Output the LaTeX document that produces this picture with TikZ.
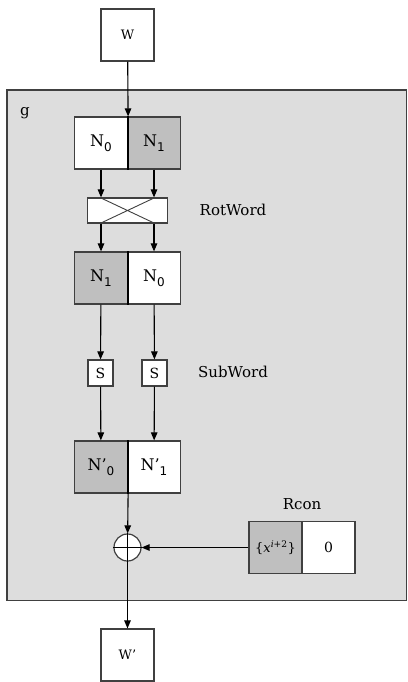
\documentclass[tikz,border=0pt]{standalone}
\usepackage{fontspec}
\setmainfont{DejaVu Serif}
\newfontfamily\subfont{DejaVu Sans}
\usetikzlibrary{arrows.meta,positioning}
\definecolor{PanelGray}{RGB}{221,221,221}
\definecolor{CellGray}{RGB}{191,191,191}
\definecolor{EdgeGray}{RGB}{64,64,64}
\newcommand{\lowidx}[1]{\raisebox{-5pt}{\subfont\fontsize{12}{12}\selectfont#1}}

\begin{document}
\begin{tikzpicture}[x=1pt,y=-1pt,
  cell/.style={draw=EdgeGray,line width=1.2pt,fill=white,minimum width=53pt,minimum height=52pt,inner sep=0pt,font=\fontsize{16}{18}\selectfont},
  shaded/.style={cell,fill=CellGray},
  sbox/.style={draw=EdgeGray,line width=1.2pt,fill=white,minimum width=25pt,minimum height=26pt,inner sep=0pt,font=\fontsize{14}{16}\selectfont},
  flow/.style={line width=1.1pt,-{Triangle[length=8pt,width=6.5pt]}},
  lbl/.style={font=\fontsize{15}{17}\selectfont}]
\useasboundingbox (0,0) rectangle (407,682);
\fill[PanelGray,draw=EdgeGray,line width=1.2pt] (7,90) rectangle (406.4,600.5);
\node[lbl] (g) at (25,113) {g};
% input and output words
\node[cell,font=\fontsize{13}{15}\selectfont] (w) at (127.5,35) {W};
\node[cell,font=\fontsize{13}{15}\selectfont] (wout) at (127.5,655) {W'};
% N0 N1
\node[cell] (n0) at (101,143) {N\lowidx{0}};
\node[shaded] (n1) at (154,143) {N\lowidx{1}};
\draw[line width=1.8pt] (n0.north east) -- (n0.south east);
% rotate
\node[draw=EdgeGray,line width=1.2pt,fill=white,minimum width=80pt,minimum height=25pt] (rot) at (127.5,210.5) {};
\draw[EdgeGray,line width=0.9pt] (101,198) -- (154,223) (154,198) -- (101,223);
\node[lbl] (rotlbl) at (233,210) {RotWord};
% N1 N0
\node[shaded] (m1) at (101,278) {N\lowidx{1}};
\node[cell] (m0) at (154,278) {N\lowidx{0}};
\draw[line width=1.8pt] (m1.north east) -- (m1.south east);
% S-boxes
\node[sbox] (s1) at (100.5,373) {S};
\node[sbox] (s2) at (154.5,373) {S};
\node[lbl] (sublbl) at (233,372) {SubWord};
% N'0 N'1
\node[shaded] (p0) at (101,467) {N'\lowidx{0}};
\node[cell] (p1) at (154,467) {N'\lowidx{1}};
\draw[line width=1.8pt] (p0.north east) -- (p0.south east);
% xor and Rcon
\node[circle,draw=EdgeGray,line width=1.2pt,fill=white,minimum size=27pt,inner sep=0pt] (xor) at (127.5,547.5) {};
\draw[line width=1pt] (xor.north) -- (xor.south) (xor.west) -- (xor.east);
\node[shaded,font=\fontsize{13}{15}\selectfont] (rc1) at (275.5,547.5) {\{\textit{x}\textsuperscript{\textit{i}+2}\}};
\node[cell,font=\fontsize{14}{16}\selectfont] (rc2) at (328.5,547.5) {0};
\node[lbl] (rclbl) at (302,504) {Rcon};
% arrows
\draw[flow] (w) -- (n0.north east);
\draw[flow] (n0) -- (n0 |- rot.north);
\draw[flow] (n1) -- (n1 |- rot.north);
\draw[flow] (m1 |- rot.south) -- (m1);
\draw[flow] (m0 |- rot.south) -- (m0);
\draw[flow] (m1) -- (s1);
\draw[flow] (m0) -- (s2);
\draw[flow] (s1) -- (p0);
\draw[flow] (s2) -- (p1);
\draw[flow] (p0.south east) -- (xor);
\draw[flow] (rc1) -- (xor);
\draw[flow] (xor) -- (wout);
\end{tikzpicture}
\end{document}
